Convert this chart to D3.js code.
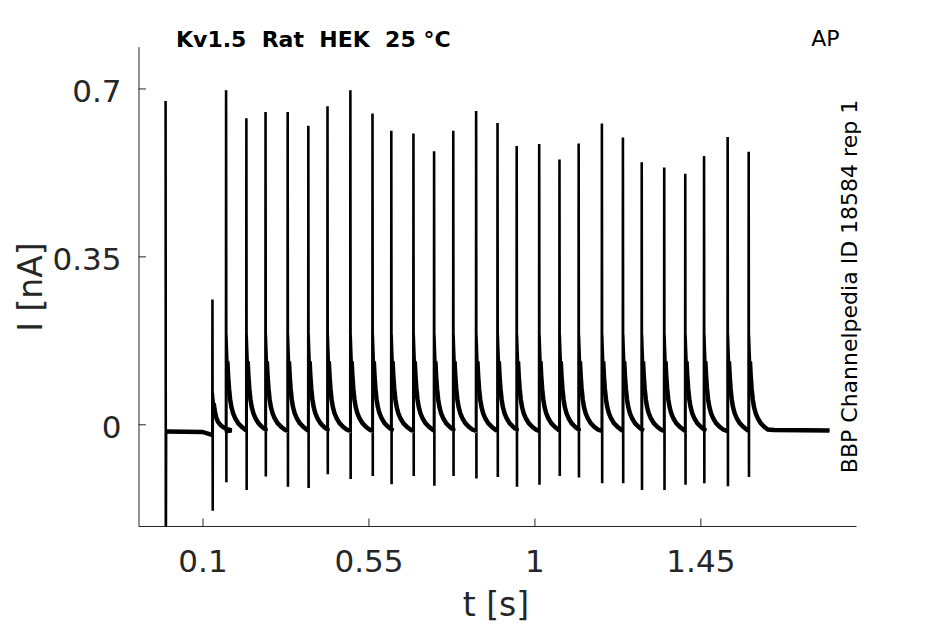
<!doctype html>
<html>
<head>
<meta charset="utf-8">
<script src="https://cdn.jsdelivr.net/npm/d3@7"></script>
<style>
  body { margin: 0; background: #fff; }
  text { font-family: "DejaVu Sans", sans-serif; white-space: pre; }
</style>
</head>
<body>
<svg id="chart" width="945" height="624"></svg>
<script>
// capacitive transient at the start of the sweep
const onsetPeak = 0.674, onsetTrough = -0.30;

// AP stimuli: spike time (s), transient peak / trough (nA), K current scale
const spikeT = [0.127, 0.164, 0.219, 0.271, 0.331, 0.387, 0.439, 0.501, 0.561, 0.612,
  0.672, 0.728, 0.780, 0.842, 0.900, 0.952, 1.013, 1.068, 1.120, 1.183,
  1.240, 1.291, 1.352, 1.409, 1.460, 1.524, 1.581];
const spikePeak = [0.260, 0.696, 0.638, 0.651, 0.651, 0.622, 0.663, 0.696, 0.648, 0.612,
  0.606, 0.569, 0.612, 0.653, 0.628, 0.580, 0.584, 0.552, 0.585, 0.627,
  0.598, 0.546, 0.535, 0.522, 0.559, 0.599, 0.568];
const spikeTrough = [-0.180, -0.121, -0.137, -0.109, -0.130, -0.133, -0.104, -0.114, -0.108, -0.125,
  -0.108, -0.128, -0.108, -0.113, -0.110, -0.130, -0.126, -0.108, -0.111, -0.123,
  -0.123, -0.137, -0.137, -0.126, -0.123, -0.129, -0.110];
const kAmp = [0.4, 1, 1, 1, 1, 1, 1, 1, 1, 1, 1, 1, 1, 1, 1, 1, 1, 1, 1, 1, 1, 1, 1, 1, 1, 1, 1];

// K current after each AP (s after spike, nA above baseline)
const kernelDt = [0.0009, 0.002, 0.0035, 0.0055, 0.008, 0.011, 0.0145, 0.019, 0.025, 0.033, 0.043, 0.052];
const kernelI = [0.20, 0.175, 0.145, 0.115, 0.088, 0.066, 0.050, 0.037, 0.026, 0.016, 0.008, 0.003];

// holding levels
const preT = [0.0014, 0.100, 0.125], preI = [-0.015, -0.016, -0.022];
const trainBase = -0.014;
const postT = [1.65, 1.80], postI = [-0.012, -0.013];

const xTicks = [0.1, 0.55, 1, 1.45];
const yTicks = [0, 0.35, 0.7];

const svg = d3.select("#chart");
const x = d3.scaleLinear().domain([-0.0735, 1.872]).range([138.5, 856]);
const y = d3.scaleLinear().domain([-0.212, 0.787]).range([526, 46.7]);

// full trace and the slow (holding + K current) part drawn thicker for the noise band
const trace = [[0, onsetPeak], [0.0006, onsetTrough]];
const slow = [];
preT.forEach((t, i) => { trace.push([t, preI[i]]); slow.push([t, preI[i]]); });
spikeT.forEach((t, i) => {
  const pre = i === 0 ? preI[preI.length - 1] : trainBase;
  trace.push([t - 0.0004, pre], [t, spikePeak[i]], [t + 0.0008, spikeTrough[i]]);
  slow.push([t - 0.0004, pre], null);
  kernelDt.forEach((dt, j) => {
    const p = [t + dt, trainBase + kAmp[i] * kernelI[j]];
    trace.push(p);
    if (j > 1) slow.push(p);
  });
});
postT.forEach((t, i) => { trace.push([t, postI[i]]); slow.push([t, postI[i]]); });

svg.append("clipPath").attr("id", "plot")
  .append("rect").attr("x", 138.5).attr("y", 46.7).attr("width", 717.5).attr("height", 479.3);

const line = d3.line().defined(d => d != null).x(d => x(d[0])).y(d => y(d[1]));
const g = svg.append("g").attr("clip-path", "url(#plot)");
g.append("path").attr("d", line(slow))
  .attr("fill", "none").attr("stroke", "#000").attr("stroke-width", 4.5);
g.append("path").attr("d", line(trace))
  .attr("fill", "none").attr("stroke", "#000").attr("stroke-width", 2.6);

// axes
const xAxis = svg.append("g").attr("transform", "translate(0,526)")
  .call(d3.axisBottom(x).tickValues(xTicks).tickFormat(d3.format("~g"))
    .tickSizeInner(-7.5).tickSizeOuter(0).tickPadding(23.5));
const yAxis = svg.append("g").attr("transform", "translate(138.5,0)")
  .call(d3.axisLeft(y).tickValues(yTicks).tickFormat(d3.format("~g"))
    .tickSizeInner(-7.5).tickSizeOuter(0).tickPadding(17));
[xAxis, yAxis].forEach(a => {
  a.attr("font-family", null).attr("font-size", null);
  a.select(".domain").attr("stroke", "#262626");
  a.selectAll(".tick line").attr("stroke", "#262626");
  a.selectAll(".tick text").attr("fill", "#262626").style("font-size", "31px");
});
yAxis.selectAll(".tick text").attr("dy", "0.43em");

svg.append("text").attr("x", 496).attr("y", 616).attr("text-anchor", "middle")
  .attr("fill", "#262626").style("font-size", "33px").text("t [s]");
svg.append("text").attr("transform", "translate(42,287) rotate(-90)").attr("text-anchor", "middle")
  .attr("fill", "#262626").style("font-size", "33px").text("I [nA]");

svg.append("text").attr("x", 176).attr("y", 46.5)
  .style("font-size", "22px").style("font-weight", "bold").text("Kv1.5  Rat  HEK  25 °C");
svg.append("text").attr("x", 839.5).attr("y", 46).attr("text-anchor", "end")
  .style("font-size", "22px").text("AP");
svg.append("text").attr("transform", "translate(857,286.5) rotate(-90)").attr("text-anchor", "middle")
  .style("font-size", "22px").text("BBP Channelpedia ID 18584 rep 1");
</script>
</body>
</html>
